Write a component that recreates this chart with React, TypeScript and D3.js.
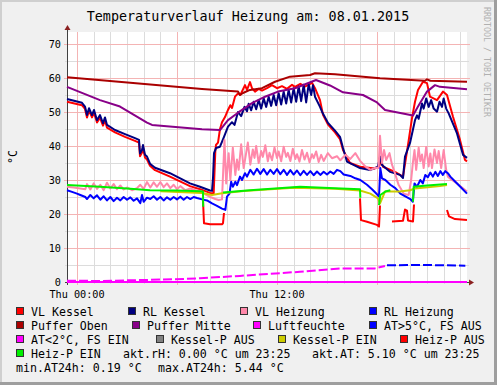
import { useEffect, useRef } from "react";
import * as d3 from "d3";

type Pt = [number, number]; // [hours since Thu 00:00, °C]

// ---- data ----
const vlKessel: Pt[] = [
  [-0.6, 53.0], [0.3, 52.0], [0.48, 50.9], [0.6, 48.4], [0.72, 50.4], [0.9, 48.4], [1.02, 49.8],
  [1.2, 46.9], [1.38, 48.3], [1.56, 46.0], [1.68, 47.6], [1.8, 45.4], [2.28, 44.0], [2.88, 42.7],
  [3.48, 41.5], [3.72, 41.0], [3.78, 37.0], [3.9, 38.1], [3.96, 39.5], [4.08, 36.6], [4.2, 36.0],
  [4.38, 34.2], [4.68, 32.9], [5.58, 31.0], [6.78, 28.2], [7.38, 27.3], [7.98, 26.2], [8.2, 26.0],
  [8.3, 38.5], [8.34, 40.3], [8.46, 41.0], [8.58, 45.0], [8.7, 47.0], [8.88, 48.5], [9.06, 50.6],
  [9.2, 52.0], [9.3, 51.2], [9.48, 54.5], [9.66, 55.5], [9.8, 55.0], [10.08, 57.9], [10.2, 56.5],
  [10.38, 58.8], [10.5, 57.0], [10.68, 56.0], [10.9, 56.8], [11.1, 56.3], [11.4, 57.0], [11.7, 57.9],
  [12.0, 57.0], [12.3, 57.6], [12.6, 56.8], [12.9, 58.0], [13.08, 57.4], [13.4, 58.3], [13.7, 57.5],
  [14.1, 58.6], [14.28, 57.0], [14.58, 53.5], [14.76, 49.2], [15.06, 46.3], [15.48, 44.0],
  [15.78, 42.0], [15.96, 38.8], [16.38, 35.0], [16.98, 33.9], [17.88, 33.4], [18.12, 33.9],
  [18.24, 35.9], [18.36, 33.9], [19.08, 32.4], [19.56, 31.0], [19.86, 40.3], [20.1, 48.2],
  [20.28, 53.0], [20.46, 56.5], [20.76, 58.9], [21.0, 58.5], [21.18, 54.5], [21.6, 53.5],
  [21.96, 56.0], [22.2, 55.0], [22.56, 48.6], [22.98, 41.8], [23.28, 35.9], [23.4, 35.5],
];

const rlKessel: Pt[] = [
  [-0.6, 53.8], [0.3, 52.7], [0.48, 51.6], [0.6, 49.1], [0.72, 51.1], [0.9, 49.1], [1.02, 50.6],
  [1.2, 47.6], [1.38, 49.1], [1.56, 46.7], [1.68, 48.4], [1.8, 46.2], [2.28, 44.7], [2.88, 43.5],
  [3.48, 42.3], [3.72, 41.8], [3.78, 37.8], [3.9, 38.8], [3.96, 40.3], [4.08, 37.4], [4.2, 36.9],
  [4.38, 34.8], [4.68, 33.6], [5.58, 32.0], [6.78, 29.0], [7.38, 28.0], [7.98, 26.9], [8.1, 26.8],
  [8.16, 30.6], [8.22, 37.9], [8.34, 39.4], [8.58, 39.8], [8.82, 42.7], [9.06, 45.7], [9.3, 47.0],
  [9.45, 46.2], [9.66, 50.0], [9.85, 48.8], [10.05, 51.5], [10.2, 50.2], [10.3, 52.4],
  [10.45, 50.5], [10.6, 53.0], [10.75, 50.8], [10.9, 53.5], [11.05, 51.0], [11.2, 54.0],
  [11.35, 51.5], [11.5, 54.5], [11.65, 51.8], [11.8, 55.0], [11.95, 52.0], [12.1, 55.5],
  [12.25, 52.2], [12.4, 56.0], [12.55, 52.5], [12.7, 56.5], [12.85, 52.8], [13.0, 57.0],
  [13.15, 53.0], [13.3, 57.5], [13.45, 53.2], [13.6, 58.0], [13.75, 52.8], [13.9, 58.2],
  [14.05, 55.0], [14.16, 57.9], [14.28, 54.5], [14.58, 51.5], [14.7, 50.1], [15.06, 46.8],
  [15.48, 44.5], [15.78, 42.7], [15.96, 39.4], [16.2, 35.4], [16.98, 33.5], [17.58, 32.9],
  [18.06, 33.9], [18.18, 36.9], [18.3, 34.4], [18.78, 32.4], [19.38, 31.5], [19.56, 30.6],
  [19.68, 36.9], [19.98, 40.9], [20.28, 47.6], [20.4, 49.0], [20.5, 48.0], [20.7, 52.5],
  [20.8, 51.0], [20.95, 54.0], [21.1, 51.5], [21.25, 53.5], [21.4, 51.0], [21.6, 50.1],
  [21.75, 53.0], [21.9, 51.5], [22.0, 54.0], [22.15, 51.0], [22.3, 49.6], [22.8, 43.7],
  [23.16, 37.4], [23.4, 36.5],
];

const vlHeizung: Pt[] = [
  [-0.6, 28.0], [-0.2, 27.8], [0.2, 27.5], [0.5, 27.3], [0.6, 28.8], [0.8, 27.2], [1.0, 29.0],
  [1.2, 27.4], [1.4, 28.6], [1.6, 27.0], [1.8, 29.2], [2.0, 27.5], [2.2, 28.8], [2.4, 27.3],
  [2.6, 28.4], [2.8, 27.2], [3.0, 27.8], [3.3, 27.0], [3.6, 27.6], [3.8, 28.6], [4.0, 27.4],
  [4.2, 29.4], [4.4, 27.8], [4.6, 29.3], [4.8, 28.0], [5.0, 29.4], [5.2, 27.9], [5.4, 29.0],
  [5.6, 27.6], [5.8, 28.6], [6.0, 27.3], [6.2, 28.2], [6.5, 27.0], [6.8, 27.5], [7.1, 27.0],
  [7.4, 26.8], [7.7, 25.8], [8.0, 25.0], [8.3, 24.4], [8.5, 24.1], [8.7, 24.3], [8.85, 41.8],
  [8.95, 29.0], [9.1, 37.9], [9.2, 30.0], [9.35, 39.5], [9.5, 31.5], [9.6, 36.0], [9.7, 33.0],
  [9.85, 40.5], [10.0, 33.5], [10.15, 38.0], [10.25, 41.0], [10.4, 34.5], [10.55, 39.0],
  [10.65, 36.5], [10.75, 40.0], [10.9, 35.0], [11.05, 38.5], [11.15, 36.8], [11.3, 40.2],
  [11.45, 35.5], [11.55, 38.0], [11.7, 35.8], [11.85, 39.6], [12.0, 36.5], [12.1, 38.4],
  [12.25, 35.5], [12.4, 39.8], [12.55, 36.8], [12.65, 38.0], [12.8, 35.6], [12.95, 39.2],
  [13.1, 36.2], [13.2, 37.6], [13.35, 35.4], [13.5, 38.8], [13.65, 36.0], [13.8, 38.0],
  [13.95, 35.2], [14.1, 37.6], [14.2, 36.4], [14.35, 38.4], [14.5, 35.3], [14.65, 37.4],
  [14.8, 35.6], [14.95, 37.0], [15.05, 37.9], [15.3, 36.4], [15.6, 37.0], [15.8, 35.8],
  [16.1, 37.4], [16.4, 36.2], [16.7, 37.9], [17.0, 35.5], [17.3, 34.0], [17.6, 33.0],
  [17.9, 33.6], [18.1, 33.5], [18.18, 43.0], [18.3, 35.0], [18.42, 38.8], [18.55, 35.9],
  [18.75, 37.9], [18.9, 34.5], [19.05, 32.4], [19.3, 28.5], [19.6, 26.0], [19.9, 25.6],
  [20.05, 30.0], [20.15, 35.0], [20.25, 38.8], [20.35, 33.0], [20.5, 39.5], [20.6, 35.5],
  [20.7, 37.5], [20.8, 33.5], [20.95, 39.7], [21.1, 34.0], [21.2, 37.8], [21.3, 33.5],
  [21.45, 39.0], [21.6, 35.0], [21.7, 38.5], [21.85, 33.5], [22.0, 38.8], [22.15, 33.0],
  [22.25, 31.0], [22.5, 30.0], [22.8, 29.0], [23.1, 27.8], [23.4, 26.6],
];

const rlHeizung: Pt[] = [
  [-0.6, 27.0], [-0.3, 26.5], [0.0, 26.0], [0.2, 25.6], [0.5, 25.0], [0.6, 24.4], [0.8, 25.6],
  [1.0, 24.6], [1.2, 25.5], [1.4, 24.2], [1.6, 25.2], [1.8, 24.0], [2.0, 25.0], [2.2, 23.8],
  [2.4, 24.8], [2.6, 24.0], [2.8, 25.0], [3.0, 24.2], [3.2, 24.9], [3.4, 23.9], [3.6, 24.6],
  [3.8, 23.2], [3.9, 25.6], [4.0, 23.6], [4.2, 24.8], [4.4, 24.4], [4.6, 25.2], [4.8, 24.2],
  [5.0, 25.0], [5.2, 24.0], [5.4, 24.9], [5.6, 24.2], [5.8, 25.0], [6.0, 24.3], [6.2, 25.1],
  [6.4, 24.2], [6.6, 25.0], [6.8, 24.4], [7.0, 25.0], [7.2, 24.7], [7.5, 24.3], [7.8, 24.0],
  [8.1, 23.1], [8.4, 22.4], [8.7, 21.6], [8.9, 21.2], [9.0, 25.1], [9.15, 26.0], [9.25, 29.5],
  [9.35, 28.0], [9.5, 29.5], [9.6, 28.5], [9.78, 31.0], [9.9, 30.0], [10.08, 32.0], [10.2, 31.0],
  [10.4, 33.0], [10.6, 31.6], [10.8, 33.3], [11.0, 31.8], [11.2, 33.2], [11.4, 31.6], [11.6, 33.0],
  [11.8, 31.8], [12.0, 33.2], [12.2, 31.7], [12.4, 33.0], [12.6, 31.5], [12.8, 32.9], [13.0, 31.6],
  [13.2, 32.8], [13.4, 31.4], [13.6, 32.7], [13.8, 31.5], [14.0, 32.6], [14.2, 31.4], [14.4, 32.5],
  [14.6, 31.5], [14.8, 32.4], [15.0, 31.6], [15.2, 32.5], [15.4, 31.8], [15.6, 33.0], [15.8, 32.6],
  [16.0, 31.6], [16.4, 31.2], [16.7, 30.5], [17.0, 30.0], [17.4, 28.6], [17.7, 27.3], [18.0, 25.8],
  [18.12, 25.1], [18.2, 33.5], [18.3, 30.5], [18.5, 30.0], [18.8, 28.6], [19.1, 27.6], [19.4, 26.0],
  [19.7, 25.2], [20.0, 24.4], [20.15, 23.6], [20.25, 29.0], [20.4, 28.0], [20.6, 30.0], [20.75, 29.0],
  [20.9, 31.5], [21.05, 30.8], [21.2, 32.2], [21.35, 31.0], [21.5, 32.4], [21.65, 31.2], [21.8, 32.6],
  [21.95, 31.5], [22.1, 32.6], [22.25, 32.0], [22.4, 31.0], [22.7, 29.5], [23.0, 28.0], [23.4, 26.0],
];

const pufferOben: Pt[] = [
  [-0.6, 60.2], [7.5, 56.8], [9.66, 56.0], [9.78, 55.0], [9.96, 55.6], [10.38, 56.5], [11.1, 57.0],
  [11.88, 58.9], [12.78, 60.4], [13.98, 60.9], [14.28, 61.4], [15.48, 61.1], [18.18, 59.9],
  [20.88, 59.2], [21.0, 59.6], [21.2, 59.2], [23.4, 58.9],
];

const pufferMitte: Pt[] = [
  [-0.6, 57.4], [1.38, 53.5], [2.58, 51.6], [4.2, 46.9], [4.5, 46.2], [7.5, 44.9], [8.58, 44.7],
  [9.06, 47.6], [9.66, 49.8], [10.5, 52.6], [11.28, 54.5], [12.06, 56.0], [13.08, 57.0],
  [14.34, 59.4], [15.18, 57.8], [15.96, 55.8], [17.16, 55.0], [18.0, 52.8], [18.48, 50.6],
  [20.16, 49.0], [20.46, 51.6], [21.0, 56.0], [21.48, 57.9], [21.78, 57.4], [23.4, 56.7],
];

const luftfeuchte: Pt[] = [[-0.6, 0], [23.4, 0]];

const atKalt: Pt[] = [
  [-0.6, 0.4], [1.38, 0.3], [5.88, 0.8], [7.38, 1.1], [9.78, 1.8], [13.38, 3.0], [15.78, 4.0],
  [17.88, 4.0], [18.48, 4.7],
];
const atWarm: Pt[] = [
  [18.6, 4.9], [19.8, 5.0], [21.0, 5.0], [22.2, 4.9], [23.3, 4.8],
];

const kesselPEin: Pt[] = [
  [5.0, 26.7], [7.5, 26.2], [8.1, 25.6], [8.7, 26.1], [10.0, 26.8], [13.0, 27.7], [15.5, 27.4],
  [16.98, 26.9], [17.6, 26.0], [18.06, 24.6], [18.18, 23.1], [18.48, 26.6], [19.38, 26.6],
  [19.98, 27.0], [20.28, 27.5], [21.78, 28.2], [22.2, 28.5],
];

const heizPAus: Pt[][] = [
  [[7.56, 24.0], [7.62, 17.3], [7.98, 17.0], [8.7, 17.0], [8.76, 17.3], [8.82, 20.3]],
  [[16.98, 24.6], [17.04, 18.2], [17.4, 17.7], [18.0, 16.8], [18.12, 16.3], [18.18, 22.5]],
  [[18.9, 17.8], [19.56, 18.0], [19.68, 21.3], [19.8, 21.0], [19.86, 18.1], [20.16, 17.8], [20.22, 22.8]],
  [[22.2, 21.2], [22.32, 19.3], [22.68, 18.5], [23.4, 18.2]],
];

const heizPEin: Pt[][] = [
  [[-0.6, 28.5], [1.38, 28.0], [3.0, 27.5], [4.38, 27.0], [6.0, 26.9], [7.38, 26.7], [7.56, 26.6], [7.57, 22.1]],
  [[8.76, 26.3], [10.38, 27.0], [13.38, 28.0], [15.48, 27.6], [16.98, 27.3], [17.0, 24.8]],
  [[18.12, 22.6], [18.2, 25.6], [18.5, 26.6], [18.8, 27.0]],
  [[20.16, 23.6], [20.2, 28.0], [21.0, 28.4], [22.2, 28.8]],
];

const yTicks = [0, 10, 20, 30, 40, 50, 60, 70];
const xTickHours = [0, 12];
const xTickLabels = ["Thu 00:00", "Thu 12:00"];

const seriesNames = [
  "VL Kessel", "RL Kessel", "VL Heizung", "RL Heizung", "Puffer Oben", "Puffer Mitte",
  "Luftfeuchte", "AT>5°C, FS AUS", "AT<2°C, FS EIN", "Kessel-P AUS", "Kessel-P EIN",
  "Heiz-P AUS", "Heiz-P EIN",
];
const seriesColors = [
  "#FF0000", "#000080", "#FF88AA", "#0000FF", "#AA0000", "#880088",
  "#FF00FF", "#0000FF", "#FF00FF", "#808080", "#CCCC00",
  "#FF0000", "#00F000",
];
const seriesParts: Pt[][][] = [
  [vlKessel], [rlKessel], [vlHeizung], [rlHeizung], [pufferOben], [pufferMitte],
  [luftfeuchte], [atWarm], [atKalt], [], [kesselPEin], heizPAus, heizPEin,
];

const infoTexts = [
  "akt.rH: 0.00 °C um 23:25",
  "akt.AT: 5.10 °C um 23:25",
  "min.AT24h: 0.19 °C",
  "max.AT24h: 5.44 °C",
];

// legend layout: [series index, square x, row]
const legendLayout: [number, number, number][] = [
  [0, 16, 0], [1, 128, 0], [2, 240, 0], [3, 369, 0],
  [4, 16, 1], [5, 132, 1], [6, 253, 1], [7, 369, 1],
  [8, 16, 2], [9, 156, 2], [10, 278, 2], [11, 400, 2],
  [12, 16, 3],
];

const W = 497;
const H = 385;
const M = { left: 67, right: 467, top: 32, bottom: 282 };
const MONO = "'DejaVu Sans Mono', monospace";

export default function App() {
  const ref = useRef<SVGSVGElement | null>(null);

  useEffect(() => {
    if (!ref.current) return;
    const svg = d3.select(ref.current);
    svg.selectAll("*").remove();

    const x = d3.scaleLinear().domain([-0.6, 23.4]).range([M.left, M.right]);
    const y = d3.scaleLinear().domain([0, 73.53]).range([M.bottom, M.top]);

    // frame
    svg.append("rect").attr("width", W).attr("height", H).attr("fill", "#F0F0F0");
    svg.append("rect").attr("x", 0).attr("y", 0).attr("width", W).attr("height", 2).attr("fill", "#CFCFCF");
    svg.append("rect").attr("x", 0).attr("y", 0).attr("width", 2).attr("height", H).attr("fill", "#CFCFCF");
    svg.append("rect").attr("x", W - 3).attr("y", 0).attr("width", 3).attr("height", H).attr("fill", "#9E9E9E");
    svg.append("rect").attr("x", 0).attr("y", H - 3).attr("width", W).attr("height", 3).attr("fill", "#9E9E9E");

    // canvas
    svg.append("rect")
      .attr("x", M.left).attr("y", M.top)
      .attr("width", M.right - M.left).attr("height", M.bottom - M.top)
      .attr("fill", "#FFFFFF");

    // grid
    const grid = svg.append("g").attr("shape-rendering", "crispEdges");
    const hours = d3.range(0, 24);
    grid.selectAll("line.vmin")
      .data(hours.filter((h) => h % 6 !== 0))
      .join("line")
      .attr("x1", (h) => Math.round(x(h)) + 0.5).attr("x2", (h) => Math.round(x(h)) + 0.5)
      .attr("y1", M.top).attr("y2", M.bottom + 2)
      .attr("stroke", "#DCDCDC");
    const vals = d3.range(5, 74, 5);
    grid.selectAll("line.hmin")
      .data(vals.filter((v) => v % 10 !== 0))
      .join("line")
      .attr("y1", (v) => Math.round(y(v)) + 0.5).attr("y2", (v) => Math.round(y(v)) + 0.5)
      .attr("x1", M.left - 2).attr("x2", M.right + 2)
      .attr("stroke", "#DCDCDC");
    grid.selectAll("line.vmaj")
      .data(hours.filter((h) => h % 6 === 0))
      .join("line")
      .attr("x1", (h) => Math.round(x(h)) + 0.5).attr("x2", (h) => Math.round(x(h)) + 0.5)
      .attr("y1", M.top).attr("y2", M.bottom + 3)
      .attr("stroke", "#F4B4B4");
    grid.selectAll("line.hmaj")
      .data(yTicks.filter((v) => v > 0))
      .join("line")
      .attr("y1", (v) => Math.round(y(v)) + 0.5).attr("y2", (v) => Math.round(y(v)) + 0.5)
      .attr("x1", M.left - 3).attr("x2", M.right + 3)
      .attr("stroke", "#F4B4B4");

    // axes
    const axis = svg.append("g");
    axis.append("line")
      .attr("x1", M.left + 0.5).attr("x2", M.left + 0.5)
      .attr("y1", M.bottom + 3).attr("y2", M.top - 3)
      .attr("stroke", "#404040").attr("shape-rendering", "crispEdges");
    axis.append("line")
      .attr("x1", M.left - 2).attr("x2", M.right + 3)
      .attr("y1", M.bottom + 0.5).attr("y2", M.bottom + 0.5)
      .attr("stroke", "#404040").attr("shape-rendering", "crispEdges");
    axis.append("path")
      .attr("d", `M${M.left - 2.5},${M.top - 2} L${M.left + 0.5},${M.top - 7} L${M.left + 3.5},${M.top - 2} Z`)
      .attr("fill", "#8B2020");
    axis.append("path")
      .attr("d", `M${M.right + 2},${M.bottom - 2.5} L${M.right + 7},${M.bottom + 0.5} L${M.right + 2},${M.bottom + 3.5} Z`)
      .attr("fill", "#8B2020");

    // tick labels
    svg.append("g").selectAll("text")
      .data(yTicks)
      .join("text")
      .attr("x", 61).attr("y", (v) => y(v) + 0.5)
      .attr("text-anchor", "end").attr("dominant-baseline", "central")
      .attr("font-family", MONO).attr("font-size", 10.2).attr("fill", "#000")
      .text((v) => String(v));
    svg.append("g").selectAll("text")
      .data(xTickHours)
      .join("text")
      .attr("x", (h) => x(h)).attr("y", 294.5)
      .attr("text-anchor", "middle").attr("dominant-baseline", "central")
      .attr("font-family", MONO).attr("font-size", 10.2).attr("fill", "#000")
      .text((_, i) => xTickLabels[i]);

    // title, unit, watermark
    svg.append("text")
      .attr("x", 248).attr("y", 16.5)
      .attr("text-anchor", "middle").attr("dominant-baseline", "central")
      .attr("font-family", MONO).attr("font-size", 13.4).attr("fill", "#000")
      .text("Temperaturverlauf Heizung am: 08.01.2015");
    svg.append("text")
      .attr("transform", "translate(13,157) rotate(-90)")
      .attr("text-anchor", "middle").attr("dominant-baseline", "central")
      .attr("font-family", MONO).attr("font-size", 11.6).attr("fill", "#000")
      .text("°C");
    svg.append("text")
      .attr("transform", "translate(487,7) rotate(90)")
      .attr("text-anchor", "start").attr("dominant-baseline", "central")
      .attr("font-family", MONO).attr("font-size", 8.3).attr("fill", "#B0B0B0")
      .text("RRDTOOL / TOBI OETIKER");

    // series
    const line = d3.line<Pt>().x((d) => x(d[0])).y((d) => y(d[1]));
    const plot = svg.append("g").attr("fill", "none").attr("stroke-width", 2).attr("stroke-linejoin", "round");
    seriesParts.forEach((parts, i) => {
      const dashed = i === 7 || i === 8;
      parts.forEach((p) => {
        plot.append("path")
          .attr("d", line(p))
          .attr("stroke", seriesColors[i])
          .attr("stroke-dasharray", dashed ? "9 3" : null);
      });
    });

    // legend
    const rowY = (r: number) => 311 + r * 14;
    const legend = svg.append("g").attr("font-family", MONO).attr("font-size", 11.6).attr("fill", "#000");
    legendLayout.forEach(([si, lx, row]) => {
      legend.append("rect")
        .attr("x", lx + 0.5).attr("y", rowY(row) - 3.5)
        .attr("width", 7).attr("height", 7)
        .attr("fill", seriesColors[si]).attr("stroke", "#333").attr("stroke-width", 1)
        .attr("shape-rendering", "crispEdges");
      legend.append("text")
        .attr("x", lx + 15).attr("y", rowY(row) + 0.5)
        .attr("dominant-baseline", "central")
        .text(seriesNames[si]);
    });
    const infoPos: [number, number][] = [[123, 3], [312, 3], [16, 4], [158, 4]];
    infoTexts.forEach((t, i) => {
      legend.append("text")
        .attr("x", infoPos[i][0]).attr("y", rowY(infoPos[i][1]) + 0.5)
        .attr("dominant-baseline", "central")
        .text(t);
    });
  }, []);

  return (
    <svg
      ref={ref}
      width={W}
      height={H}
      style={{ position: "absolute", left: 0, top: 0, display: "block" }}
    />
  );
}
